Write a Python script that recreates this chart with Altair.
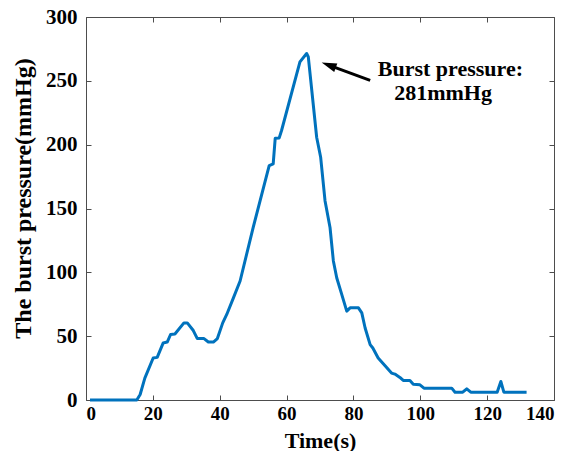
import altair as alt
import pandas as pd

# ---- data ----
time_s = [1.2, 15.2, 16.2, 17.6, 20.1, 21.3, 23.1, 24.3, 25.3, 26.6, 29.3, 30.3,
          32.1, 33.3, 35.3, 36.6, 38.1, 39.3, 40.9, 42.1, 44.1, 46.1, 50.0, 54.8,
          56.0, 56.6, 57.8, 58.5, 64.0, 66.0, 66.5, 69.0, 70.2, 71.5, 73.0, 74.0,
          75.0, 76.5, 78.0, 79.0, 81.5, 82.5, 83.5, 85.0, 85.8, 87.4, 91.4, 92.4,
          93.9, 94.9, 96.9, 97.9, 99.9, 101.1, 109.4, 110.4, 112.7, 113.9, 115.1,
          123.0, 124.1, 125.0, 131.8]
pressure = [0, 0, 4.3, 17.1, 32.9, 33.4, 44.7, 45.4, 51.3, 51.7, 60.4, 60.4,
            54.4, 48.1, 48.1, 45.4, 45.4, 48.1, 60.4, 67.0, 80.0, 93.2, 135.1, 183.6,
            184.9, 205.0, 205.3, 211.1, 264.8, 271.4, 268.7, 205.8, 190.1, 156.1, 135.1, 108.9,
            95.8, 82.7, 69.6, 72.2, 72.2, 68.2, 56.4, 43.4, 40.7, 32.9, 21.1, 20.3,
            17.7, 15.3, 15.3, 12.4, 11.9, 9.3, 9.3, 6.1, 6.1, 8.8, 6.1,
            6.1, 14.5, 6.1, 6.1]

x_ticks = [0, 20, 40, 60, 80, 100, 120, 140]
y_ticks = [0, 50, 100, 150, 200, 250, 300]

note_lines = ["Burst pressure:", "281mmHg"]
note_x = [109.0, 106.8]
note_y = [253.5, 235.2]

arrow_tail = (85.0, 250.4)
arrow_tip = (70.5, 264.3)
arrow_shaft_end = (72.8, 262.1)

FONT = "Liberation Serif"
BLUE = "#0072BD"
GREY = "#4d4d4d"

df = pd.DataFrame({"t": time_s, "p": pressure})
xs = alt.Scale(domain=[0, 140], nice=False, zero=False)
ys = alt.Scale(domain=[0, 300], nice=False)

W, H = 468, 383

line = alt.Chart(df).mark_line(color=BLUE, strokeWidth=3, strokeJoin="round").encode(
    x=alt.X("t:Q", scale=xs, axis=alt.Axis(
        title="Time(s)", orient="bottom", values=x_ticks, grid=False, domain=False,
        offset=-5, tickSize=5, tickColor=GREY, labelPadding=4,
        labelFont=FONT, labelFontSize=19, labelFontWeight="bold", labelColor="black",
        titleFont=FONT, titleFontSize=22, titleFontWeight="bold", titleColor="black",
        titleX=W / 2, titleY=52, titleBaseline="alphabetic", titleAlign="center")),
    y=alt.Y("p:Q", scale=ys, axis=alt.Axis(
        title="The burst pressure(mmHg)", orient="left", values=y_ticks, grid=False,
        domain=False, offset=-5, tickSize=5, tickColor=GREY, labelPadding=9,
        labelFont=FONT, labelFontSize=21, labelFontWeight="bold", labelColor="black",
        titleFont=FONT, titleFontSize=24, titleFontWeight="bold", titleColor="black",
        titleAngle=270, titleX=-61, titleY=181, titleBaseline="alphabetic",
        titleAlign="center")),
)

mirror = alt.Chart(df).mark_line(opacity=0).encode(
    x=alt.X("t:Q", scale=xs, axis=alt.Axis(
        title="", orient="top", values=x_ticks, grid=False, domain=False, labels=False,
        offset=-5, tickSize=5, tickColor=GREY)),
    y=alt.Y("p:Q", scale=ys, axis=alt.Axis(
        title="", orient="right", values=y_ticks, grid=False, domain=False, labels=False,
        offset=-5, tickSize=5, tickColor=GREY)),
)

arrow_df = pd.DataFrame({"x": [arrow_tail[0]], "y": [arrow_tail[1]],
                         "x2": [arrow_shaft_end[0]], "y2": [arrow_shaft_end[1]]})
shaft = alt.Chart(arrow_df).mark_rule(color="black", strokeWidth=3).encode(
    x=alt.X("x:Q", scale=xs, axis=None), y=alt.Y("y:Q", scale=ys, axis=None),
    x2="x2:Q", y2="y2:Q")

head_df = pd.DataFrame({"x": [arrow_tip[0]], "y": [arrow_tip[1]]})
head = alt.Chart(head_df).mark_point(
    shape="M0,0 L0.3,1 L-0.3,1 Z", size=900, filled=True, color="black",
    opacity=1, angle=290, strokeWidth=0).encode(
    x=alt.X("x:Q", scale=xs, axis=None), y=alt.Y("y:Q", scale=ys, axis=None))

note_df = pd.DataFrame({"x": note_x, "y": note_y, "label": note_lines})
note = alt.Chart(note_df).mark_text(
    font=FONT, fontSize=22, fontWeight="bold", color="black",
    align="center", baseline="alphabetic").encode(
    x=alt.X("x:Q", scale=xs, axis=None), y=alt.Y("y:Q", scale=ys, axis=None),
    text="label:N")

chart = alt.layer(line, mirror, shaft, head, note).resolve_axis(
    x="independent", y="independent"
).properties(
    width=W, height=H,
    autosize=alt.AutoSizeParams(type="none"),
    padding={"left": 86, "top": 17, "right": 13, "bottom": 51},
    background="white",
).configure_view(stroke=GREY, strokeWidth=1)

chart.save("out.html", embed_options={"renderer": "svg", "actions": False})
